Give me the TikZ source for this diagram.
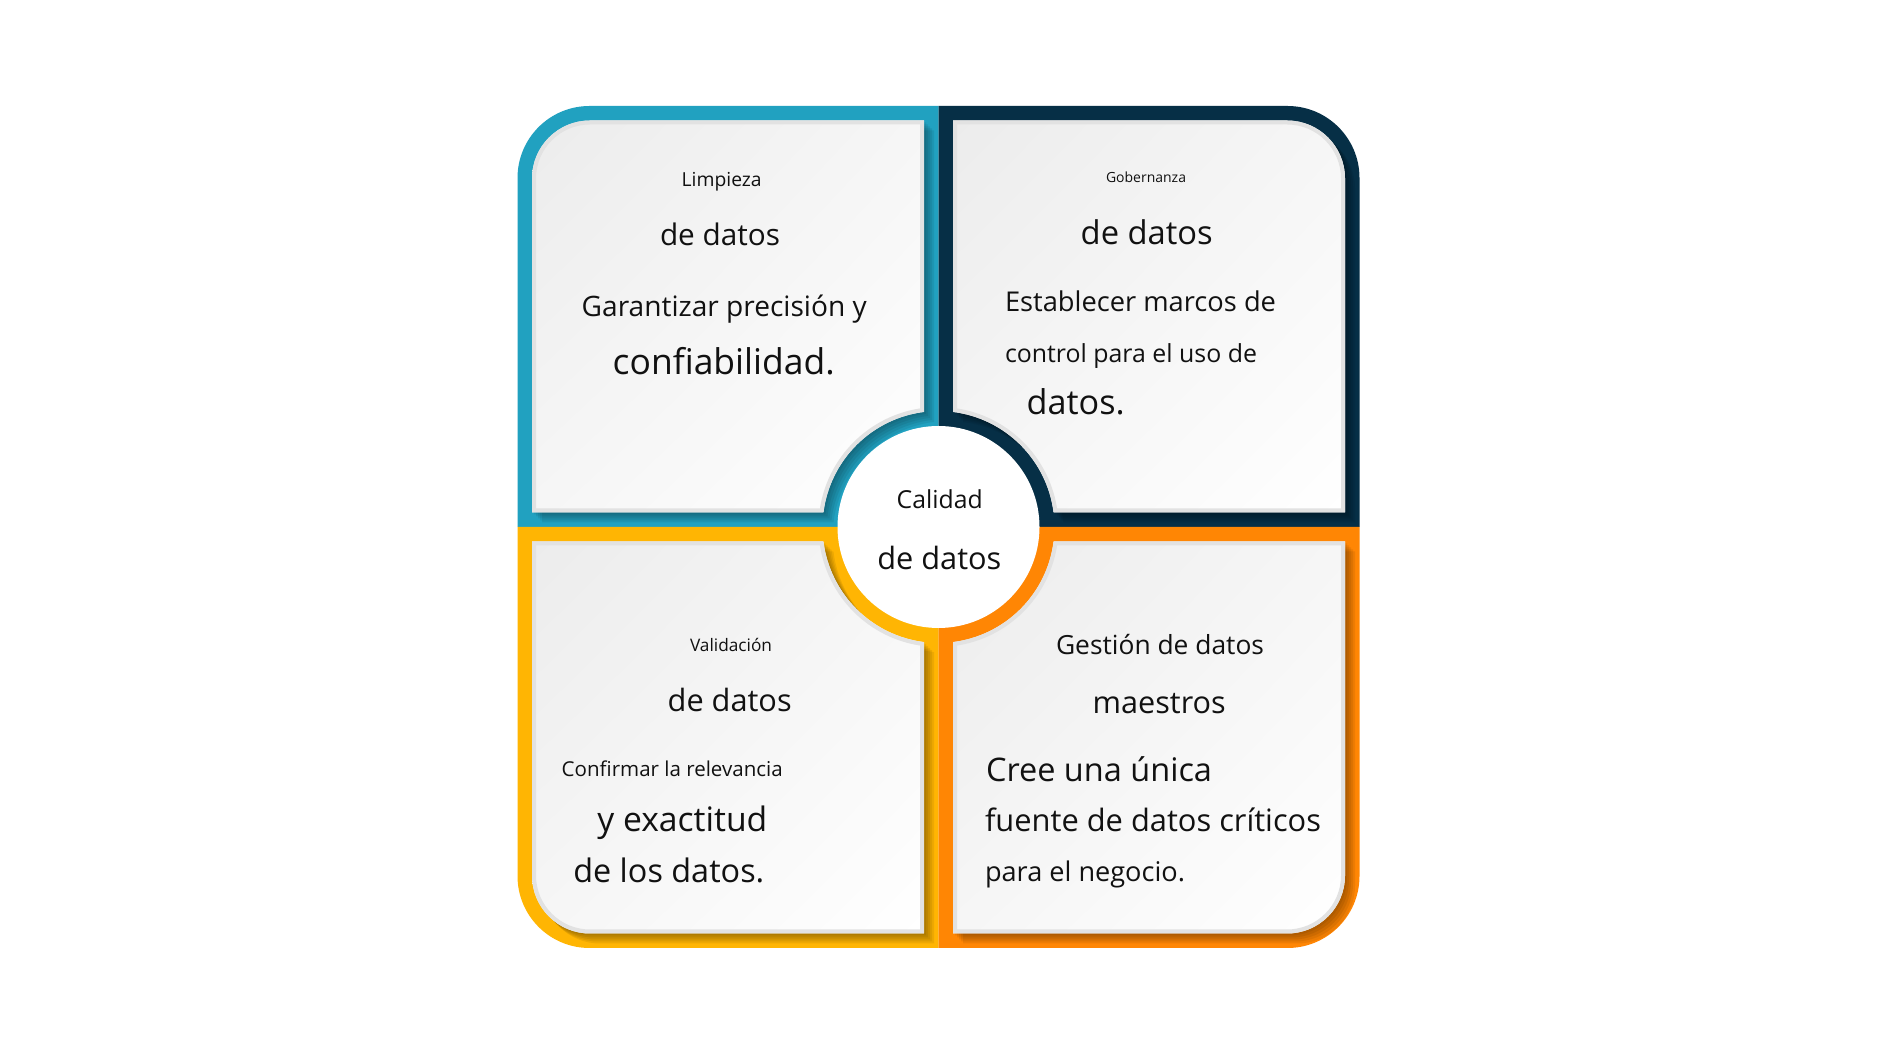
\documentclass[tikz,border=0pt]{standalone}
\usepackage{fontspec}
\setmainfont{Open Sans}
\usepackage{graphicx}
\usetikzlibrary{shadings}
\definecolor{qteal}{RGB}{33,161,192}
\definecolor{qnavy}{RGB}{6,47,70}
\definecolor{qyellow}{RGB}{255,181,3}
\definecolor{qorange}{RGB}{255,134,4}
\definecolor{cardA}{RGB}{236,236,236}
\definecolor{cardB}{RGB}{246,246,246}
\definecolor{rim}{RGB}{226,226,226}
\definecolor{ink}{RGB}{17,17,17}
% quadrant (top-left form, local coordinates around the centre)
\newcommand\quadshape[1]{\path[#1] (0,0) -- (0,421) -- (-349,421) arc[start angle=90,end angle=180,radius=72] -- (-421,0) -- cycle;}
% card (top-left form)
\newcommand\cardshape[1]{\path[#1] (-115.09,14.5) -- (-406.5,14.5) -- (-406.5,348.5) arc[start angle=180,end angle=90,radius=58] -- (-14.5,406.5) -- (-14.5,115.09) arc[start angle=97.18,end angle=172.82,radius=116] -- cycle;}
% #1 xscale, #2 yscale, #3 colour, #4-#7 card bounding box
\newcommand\quadrant[7]{%
  \quadshape{fill=#3, shift={(938.5,533)}, xscale=#1, yscale=#2}
  \begin{scope}
    \quadshape{clip, shift={(938.5,533)}, xscale=#1, yscale=#2}
    \foreach \d in {2,4,6,8,10}{\cardshape{fill=black, fill opacity=0.07, shift={(938.5+\d,533-\d)}, xscale=#1, yscale=#2}}
  \end{scope}
  \begin{scope}
    \cardshape{clip, shift={(938.5,533)}, xscale=#1, yscale=#2}
    \shade[upper left=cardA, upper right=cardB, lower left=cardB, lower right=white] (#4,#5) rectangle (#6,#7);
    \cardshape{draw=rim, line width=8pt, shift={(938.5,533)}, xscale=#1, yscale=#2}
  \end{scope}
}
\begin{document}
\begin{tikzpicture}[x=1pt,y=1pt,
  txt/.style={anchor=base west, inner sep=0pt, outer sep=0pt, text=ink}]
\useasboundingbox (0,0) rectangle (1884,1060);
\fill[white] (0,0) rectangle (1884,1060);

\quadrant{1}{1}{qteal}{532}{547.5}{924}{939.5}
\quadrant{-1}{1}{qnavy}{953}{547.5}{1345}{939.5}
\quadrant{1}{-1}{qyellow}{532}{126.5}{924}{518.5}
\quadrant{-1}{-1}{qorange}{953}{126.5}{1345}{518.5}

\node[circle, fill=white, minimum size=202pt, inner sep=0pt] (hub) at (938.5,533) {};

% top left
\node[txt] (t1) at (681.7,873) {\resizebox{80pt}{!}{Limpieza}};
\node[txt] (t2) at (660,814) {\resizebox{120pt}{!}{de datos}};
\node[txt] (t3) at (581.7,743) {\resizebox{285pt}{!}{Garantizar precisión y}};
\node[txt] (t4) at (612.7,685) {\resizebox{222pt}{!}{confiabilidad.}};
% centre
\node[txt] (t5) at (896.7,551) {\resizebox{86pt}{!}{Calidad}};
\node[txt] (t6) at (877.3,490) {\resizebox{124pt}{!}{de datos}};
% top right
\node[txt] (t7) at (1106,877) {\resizebox{80pt}{!}{Gobernanza}};
\node[txt] (t8) at (1080.7,815) {\resizebox{132pt}{!}{de datos}};
\node[txt] (t9) at (1005,748) {\resizebox{271pt}{!}{Establecer marcos de}};
\node[txt] (t10) at (1005,697) {\resizebox{252pt}{!}{control para el uso de}};
\node[txt] (t11) at (1026.7,645) {\resizebox{98pt}{!}{datos.}};
% bottom left
\node[txt] (t12) at (690,408) {\resizebox{82pt}{!}{Validación}};
\node[txt] (t13) at (667.7,348) {\resizebox{124pt}{!}{de datos}};
\node[txt] (t14) at (561.7,283) {\resizebox{221pt}{!}{Confirmar la relevancia}};
\node[txt] (t15) at (597.3,228) {\resizebox{170pt}{!}{y exactitud}};
\node[txt] (t16) at (573.3,177) {\resizebox{191pt}{!}{de los datos.}};
% bottom right
\node[txt] (t17) at (1056,405) {\resizebox{208pt}{!}{Gestión de datos}};
\node[txt] (t18) at (1092.7,346) {\resizebox{133pt}{!}{maestros}};
\node[txt] (t19) at (986,278) {\resizebox{226pt}{!}{Cree una única}};
\node[txt] (t20) at (985,228) {\resizebox{336pt}{!}{fuente de datos críticos}};
\node[txt] (t21) at (985,178) {\resizebox{200pt}{!}{para el negocio.}};
\end{tikzpicture}
\end{document}
